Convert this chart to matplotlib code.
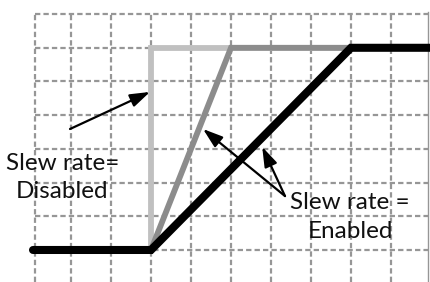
import matplotlib
matplotlib.use("Agg")
import matplotlib.pyplot as plt

# grid units: one vertical cell = 1 x unit, one horizontal cell = 1 y unit
grid_x = [0.1, 1, 2, 3, 4, 5, 6, 7, 8, 9]
grid_y = [0, 1, 2, 3, 4, 5, 6, 7]
right_edge = 9.925

# signal traces
disabled_x = [3, 3, 9.975]
disabled_y = [0, 6, 6]
fast_x = [3, 5, 9.975]
fast_y = [0, 6, 6]
enabled_x = [0.05, 3, 8, 9.975]
enabled_y = [0, 0, 6, 6]

# annotations: (text, text position, arrow tips)
disabled_label = "Slew rate=\nDisabled"
disabled_text_xy = (0.78, 2.15)
disabled_tail = (0.975, 3.59)
disabled_tips = [(2.975, 4.69)]

enabled_label = "Slew rate =\nEnabled"
enabled_text_xy = (7.98, 0.97)
enabled_tail = (6.35, 1.6)
enabled_tips = [(4.3, 3.59), (5.78, 3.06)]

grid_color = "#969696"

fig = plt.figure(figsize=(4.30, 2.82), dpi=100)
ax = fig.add_axes([0, 0, 1, 1])
ax.set_xlim(-0.775, 9.975)
ax.set_ylim(-0.95, 7.418)
ax.axis("off")

dash = (0, (2.4, 1.4))
for gx in grid_x:
    ax.plot([gx, gx], [-0.95, grid_y[-1]], color=grid_color, lw=1.6,
            linestyle=dash, zorder=1)
for gy in grid_y:
    ax.plot([grid_x[0], right_edge], [gy, gy], color=grid_color, lw=1.6,
            linestyle=dash, zorder=1)
ax.plot([right_edge, right_edge], [-0.95, grid_y[-1] + 0.05],
        color=grid_color, lw=1.0, zorder=1)

ax.plot(disabled_x, disabled_y, color="#c0c0c0", lw=4.2,
        solid_joinstyle="miter", zorder=2)
ax.plot(fast_x, fast_y, color="#8c8c8c", lw=4.2,
        solid_joinstyle="miter", zorder=3)
ax.plot(enabled_x, enabled_y, color="#000000", lw=5.8,
        solid_joinstyle="miter", solid_capstyle="round", zorder=4)

arrow_style = dict(arrowstyle="-|>,head_length=0.6,head_width=0.2",
                   mutation_scale=20, color="black", lw=1.6,
                   shrinkA=0, shrinkB=0)
for tip in disabled_tips:
    ax.annotate("", xy=tip, xytext=disabled_tail, arrowprops=arrow_style,
                zorder=5)
for tip in enabled_tips:
    ax.annotate("", xy=tip, xytext=enabled_tail, arrowprops=arrow_style,
                zorder=5)

font = dict(family=["Lato", "DejaVu Sans"], fontsize=17.5, color="#111111",
            ha="center", va="center", linespacing=1.45, zorder=6)
ax.text(*disabled_text_xy, disabled_label, **font)
ax.text(*enabled_text_xy, enabled_label, **font)

fig.savefig("out.png", dpi=100)
